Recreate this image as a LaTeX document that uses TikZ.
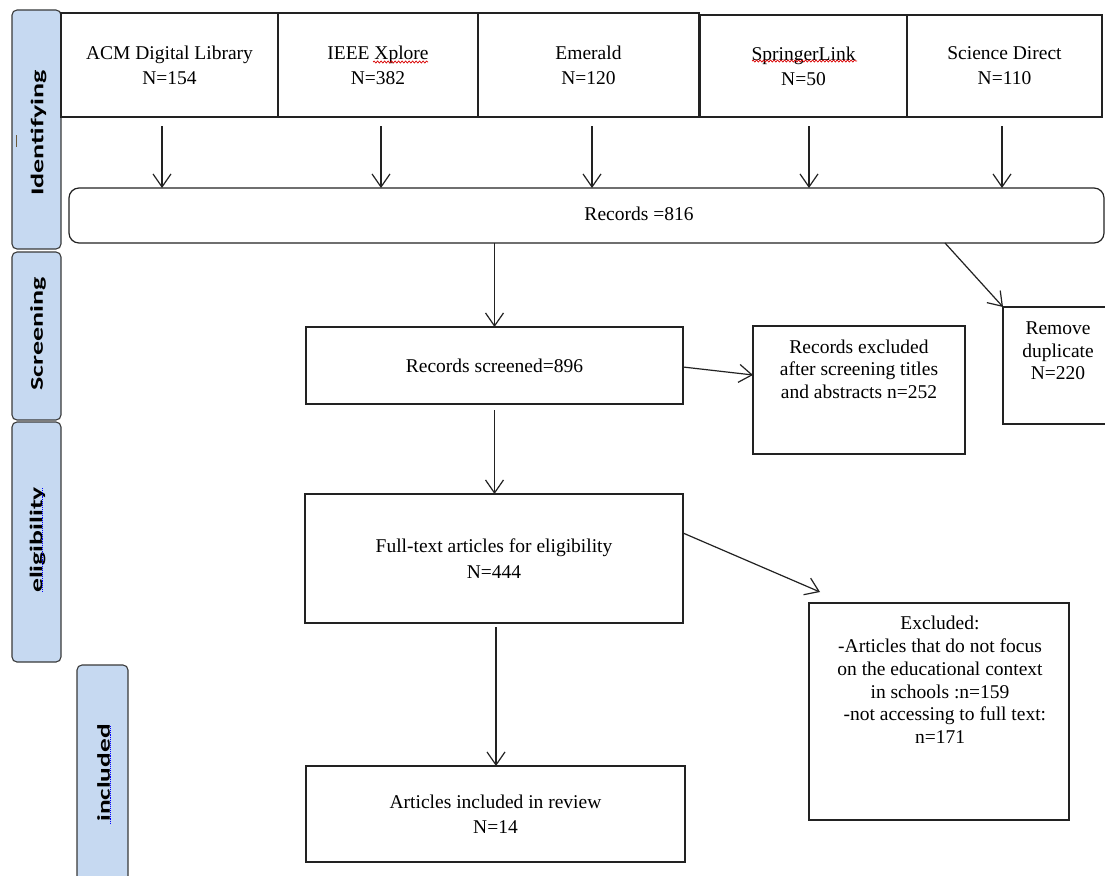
\documentclass[tikz,border=0pt]{standalone}
\usepackage{fontspec}
\setmainfont{Liberation Serif}
\newfontfamily\tabfont{Carlito}
\usetikzlibrary{arrows.meta,calc,decorations.pathmorphing}
\definecolor{tabblue}{HTML}{C6D9F1}
\definecolor{tabline}{HTML}{3A3A3A}
\definecolor{inkc}{HTML}{222222}
\definecolor{markc}{HTML}{6B5A3A}
\begin{document}
\begin{tikzpicture}[x=1pt,y=-1pt,
  box/.style={draw=inkc, line width=1.2pt, fill=white, inner sep=0pt, outer sep=0pt,
    align=center, font=\fontsize{19.5}{25}\selectfont},
  txt/.style={inner sep=0pt, outer sep=0pt, align=center, font=\fontsize{19.5}{25}\selectfont},
  tab/.style={draw=tabline, fill=tabblue, rounded corners=5pt, line width=1.1pt, inner sep=0pt, outer sep=0pt},
  tabtxt/.style={rotate=90, inner sep=0pt, font=\tabfont\bfseries\fontsize{18}{18}\selectfont},
  arr/.style={draw=inkc, line width=1.2pt, -{Straight Barb[length=13pt,width=18pt]}},
  wavy/.style={draw=red!85!black, line width=0.7pt, decorate, decoration={snake, amplitude=1pt, segment length=3.5pt}},
  spell/.style={draw=blue, line width=1.1pt, densely dotted}
]
\fill[white] (0,0) rectangle (1105,875);
\useasboundingbox (0,0) rectangle (1105,875);
\clip (0,0) rectangle (1105,875);

% phase tabs
\node[tab, minimum width=49pt, minimum height=239pt] (ident) at (36.5,129.5) {};
\node[tab, minimum width=49pt, minimum height=168pt] (screen) at (36.5,336) {};
\node[tab, minimum width=49pt, minimum height=240pt] (elig) at (36.5,542) {};
\node[tab, minimum width=51pt, minimum height=220pt] (incl) at (102.5,775) {};
\node[tabtxt] (identtxt) at (38.5,133) {\scalebox{1.56}[1]{Identifying}};
\node[tabtxt] (screentxt) at (38,334) {\scalebox{1.56}[1]{Screening}};
\node[tabtxt] (eligtxt) at (37.5,540) {\scalebox{1.54}[1]{eligibility}};
\node[tabtxt] (incltxt) at (103.5,773) {\scalebox{1.52}[1]{included}};
\draw[markc, line width=0.9pt] ([xshift=-20.5pt,yshift=-5.5pt]ident.center) -- ++(0,12);
\draw[spell] ([xshift=6pt,yshift=54pt]elig.center) -- ([xshift=6pt,yshift=-50pt]elig.center);
\draw[spell] ([xshift=8pt,yshift=49pt]incl.center) -- ([xshift=8pt,yshift=-49pt]incl.center);

% source boxes
\node[box, minimum width=217pt, minimum height=104pt] (acm) at (169.5,65) {ACM Digital Library\\N=154};
\node[box, minimum width=200pt, minimum height=104pt] (ieee) at (378,65) {IEEE Xplore\\N=382};
\node[box, minimum width=221pt, minimum height=104pt] (emerald) at (588.5,65) {Emerald\\N=120};
\node[box, minimum width=207pt, minimum height=102pt] (springer) at (803.5,66) {SpringerLink\\N=50};
\node[box, minimum width=195pt, minimum height=102pt] (sd) at (1004.5,66) {Science Direct\\N=110};
\draw[wavy] ([xshift=-5pt,yshift=3pt]ieee.center) -- ([xshift=50pt,yshift=3pt]ieee.center);
\draw[wavy] ([xshift=-51.5pt,yshift=5pt]springer.center) -- ([xshift=53.5pt,yshift=5pt]springer.center);

% records
\node[box, rounded corners=10pt, minimum width=1035pt, minimum height=55pt] (records) at (586.5,215.5) {};
\node[txt] (recordstxt) at (639,214) {Records =816};

\foreach \src/\dx in {acm/-7.5, ieee/3, emerald/3.5, springer/5.5, sd/-2.5}{
  \draw[arr] ([xshift=\dx pt,yshift=-9pt]\src.south) -- ([xshift=\dx pt]\src.south |- records.north);
}

% screening
\node[box, minimum width=377pt, minimum height=77pt] (screened) at (494.5,365.5) {Records screened=896};
\node[box, minimum width=212pt, minimum height=128pt] (excl1) at (859,390) {};
\node[txt, font=\fontsize{19.5}{22.5}\selectfont] (excl1txt) at (859,369) {Records excluded\\after screening titles\\and abstracts n=252};
\node[box, minimum width=107pt, minimum height=117pt] (dup) at (1056.5,365.5) {};
\node[txt, font=\fontsize{19.5}{22.5}\selectfont] (duptxt) at (1058,351) {Remove\\duplicate\\N=220};

% eligibility
\node[box, minimum width=378pt, minimum height=129pt, font=\fontsize{19.5}{26}\selectfont] (fulltext) at (494,558.5) {Full-text articles for eligibility\\N=444};
\node[box, minimum width=260pt, minimum height=217pt] (excl2) at (939,711.5) {};
\node[txt, font=\fontsize{19.5}{22.8}\selectfont] (excl2txt) at (940,680) {Excluded:\\-Articles that do not focus\\on the educational context\\in schools :n=159\\\ \ -not accessing to full text:\\n=171};

% included
\node[box, minimum width=379pt, minimum height=96pt] (articles) at (495.5,814) {Articles included in review\\N=14};

% connectors
\draw[arr] (screened.north |- records.south) -- (screened.north);
\draw[arr] ([xshift=358.5pt]records.south) -- (dup.north west);
\draw[arr] ([yshift=-1.5pt]screened.east) -- ([yshift=15pt]excl1.west);
\draw[arr] ([yshift=-6pt]screened.south) -- (screened.south |- fulltext.north);
\draw[arr] ([yshift=25.5pt]fulltext.east) -- ([xshift=11pt,yshift=11pt]excl2.north west);
\draw[arr] ([xshift=2pt,yshift=-4pt]fulltext.south) -- ([xshift=2pt]fulltext.south |- articles.north);
\end{tikzpicture}
\end{document}
